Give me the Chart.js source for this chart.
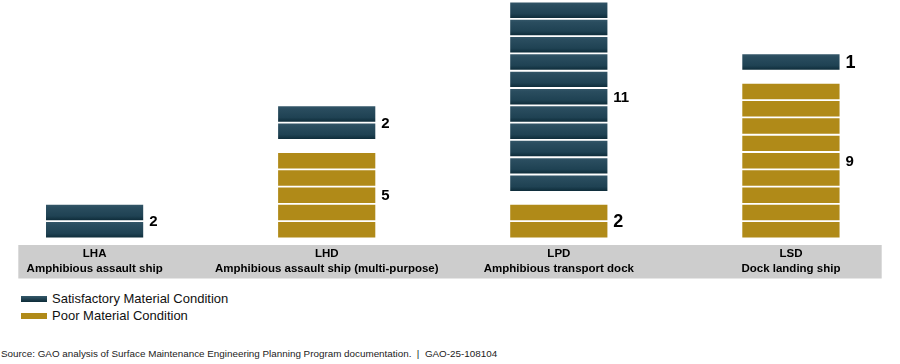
<!DOCTYPE html>
<html>
<head>
<meta charset="utf-8">
<script src="https://cdn.jsdelivr.net/npm/chart.js@4/dist/chart.umd.min.js"></script>
<style>
  html, body { margin: 0; padding: 0; background: #fff; }
  body { width: 900px; height: 364px; overflow: hidden; position: relative; font-family: "Liberation Sans", Arial, sans-serif; }
  #wrap { position: absolute; left: 0; top: 0; width: 900px; height: 280px; }
  .leg { position: absolute; left: 21px; font-size: 13px; color: #111; line-height: 16px; white-space: nowrap; }
  .sw { display: inline-block; width: 26px; height: 6px; vertical-align: middle; margin-right: 5px; position: relative; top: -1px; }
  #source { position: absolute; left: 1px; top: 348px; font-size: 9.85px; color: #222; white-space: nowrap; line-height: 12px; }
</style>
</head>
<body>
<div id="wrap"><canvas id="c"></canvas></div>
<div class="leg" style="top:291px;"><span class="sw" style="background:linear-gradient(#35596b,#0d2b38);"></span>Satisfactory Material Condition</div>
<div class="leg" style="top:308px;"><span class="sw" style="background:#b08a18;"></span>Poor Material Condition</div>
<div id="source">Source: GAO analysis of Surface Maintenance Engineering Planning Program documentation.&nbsp; |&nbsp; GAO-25-108104</div>
<script>
// ---- data ----
const shipCodes = ['LHA', 'LHD', 'LPD', 'LSD'];
const shipNames = ['Amphibious assault ship', 'Amphibious assault ship (multi-purpose)', 'Amphibious transport dock', 'Dock landing ship'];
const poorCounts = [0, 5, 2, 9];
const satCounts = [2, 2, 11, 1];

// ---- style / layout constants ----
const GAP_UNITS = 0.7;            // empty space between the two stacks
const TEAL = ['#36596b', '#2a4d5f', '#1f4253', '#0b2835'];
const GOLD = '#b08a18';
const bigLabel = { 'LPD-poor': true, 'LSD-sat': true };

function satBase(i) {
  return poorCounts[i] + (poorCounts[i] > 0 && satCounts[i] > 0 ? GAP_UNITS : 0);
}

function tealGradient(ctx, base) {
  const chart = ctx.chart;
  const y = chart.scales && chart.scales.y;
  if (!chart.chartArea || !y) return TEAL[1];
  const top = y.getPixelForValue(base + 1);
  const bot = y.getPixelForValue(base);
  const g = chart.ctx.createLinearGradient(0, top, 0, bot);
  g.addColorStop(0, TEAL[0]);
  g.addColorStop(0.2, TEAL[1]);
  g.addColorStop(0.7, TEAL[2]);
  g.addColorStop(1, TEAL[3]);
  return g;
}

const unitBorder = { top: 1.25, bottom: 1.25, left: 0, right: 0 };
const datasets = [];
const maxPoor = Math.max(...poorCounts);
const maxSat = Math.max(...satCounts);

for (let k = 0; k < maxPoor; k++) {
  datasets.push({
    label: 'Poor Material Condition',
    data: shipCodes.map((_, i) => ({ x: i, y: k < poorCounts[i] ? 1 : null })),
    backgroundColor: GOLD,
    borderColor: '#ffffff',
    borderWidth: unitBorder,
    borderSkipped: false
  });
}
datasets.push({
  label: 'gap',
  data: shipCodes.map((_, i) => ({ x: i, y: (poorCounts[i] > 0 && satCounts[i] > 0) ? GAP_UNITS : null })),
  backgroundColor: 'rgba(0,0,0,0)',
  borderWidth: 0
});
for (let k = 0; k < maxSat; k++) {
  datasets.push({
    label: 'Satisfactory Material Condition',
    data: shipCodes.map((_, i) => ({ x: i, y: k < satCounts[i] ? 1 : null })),
    backgroundColor: (ctx) => tealGradient(ctx, satBase(ctx.dataIndex) + k),
    borderColor: '#ffffff',
    borderWidth: unitBorder,
    borderSkipped: false
  });
}

const bandPlugin = {
  id: 'band',
  beforeDraw(chart) {
    const { ctx, chartArea } = chart;
    ctx.save();
    ctx.fillStyle = '#cdcdcd';
    ctx.fillRect(chartArea.left, chartArea.bottom + 6.5, chartArea.right - chartArea.left, 33.5);
    ctx.restore();
  }
};

const valueLabels = {
  id: 'valueLabels',
  afterDatasetsDraw(chart) {
    const { ctx, scales } = chart;
    const xs = scales.x, ys = scales.y;
    ctx.save();
    ctx.fillStyle = '#000';
    ctx.textAlign = 'left';
    ctx.textBaseline = 'middle';
    shipCodes.forEach((code, i) => {
      const xr = xs.getPixelForValue(i) + 48.5 + 6;
      const groups = [];
      if (poorCounts[i] > 0) groups.push(['poor', poorCounts[i], poorCounts[i] / 2]);
      if (satCounts[i] > 0) groups.push(['sat', satCounts[i], satBase(i) + satCounts[i] / 2]);
      groups.forEach(([kind, n, mid]) => {
        const big = bigLabel[code + '-' + kind];
        ctx.font = 'bold ' + (big ? 18 : 15) + 'px "Liberation Sans", Arial, sans-serif';
        ctx.fillText(String(n), xr, ys.getPixelForValue(mid) + 1);
      });
    });
    ctx.restore();
  }
};

new Chart(document.getElementById('c'), {
  type: 'bar',
  data: { datasets },
  options: {
    responsive: true,
    maintainAspectRatio: false,
    animation: false,
    layout: { padding: { left: 18.3, right: 18.3, top: 0, bottom: 0 } },
    barThickness: 97.3,
    plugins: { legend: { display: false }, tooltip: { enabled: false } },
    scales: {
      x: {
        type: 'linear',
        stacked: true,
        offset: false,
        min: -0.329,
        max: 3.391,
        grid: { display: false, drawTicks: false, offset: false },
        border: { display: false },
        afterBuildTicks(scale) { scale.ticks = shipCodes.map((_, i) => ({ value: i })); },
        afterFit(scale) { scale.height = 41.5; },
        ticks: {
          autoSkip: false,
          maxRotation: 0,
          minRotation: 0,
          padding: 8,
          color: '#000',
          font: { family: '"Liberation Sans", Arial, sans-serif', size: 11.5, weight: 'bold', lineHeight: 1.3 },
          callback: (v) => [shipCodes[v], shipNames[v]]
        }
      },
      y: {
        display: false,
        stacked: true,
        min: 0,
        max: 13.79
      }
    }
  },
  plugins: [bandPlugin, valueLabels]
});
</script>
</body>
</html>
